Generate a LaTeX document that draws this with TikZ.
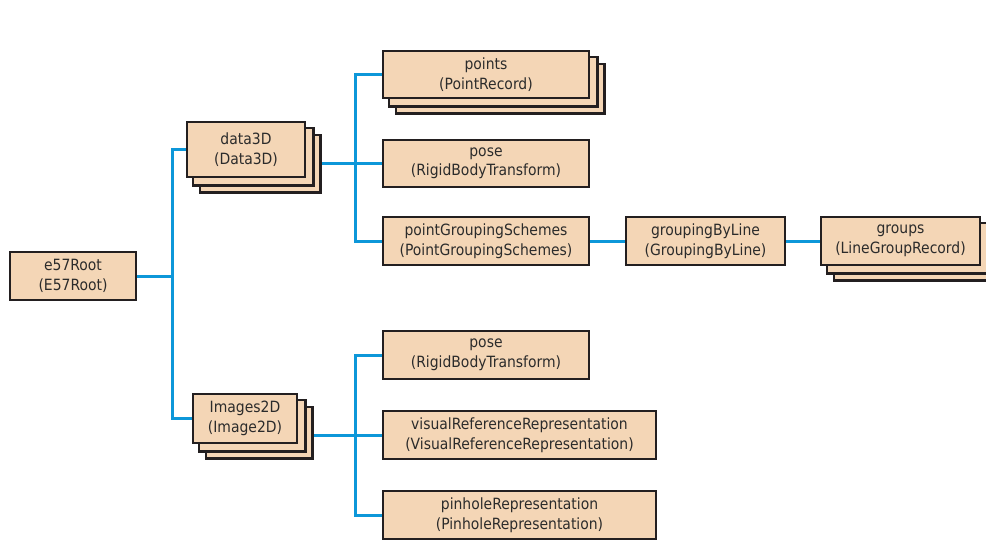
\documentclass[tikz,border=0pt]{standalone}
\usepackage{fontspec}
\setmainfont{DejaVu Sans Condensed}
\definecolor{boxfill}{HTML}{F4D6B6}
\definecolor{boxline}{HTML}{231F20}
\definecolor{connblue}{HTML}{0D97D9}
\definecolor{textcol}{HTML}{2B2B2B}
\pgfdeclarelayer{bg}
\pgfsetlayers{bg,main}
\tikzset{
  box/.style={draw=boxline, line width=2.5pt, fill=boxfill, inner sep=0pt, align=center,
    text=textcol, font=\fontsize{15.5}{19.5}\selectfont, minimum height=48},
  conn/.style={draw=connblue, line width=3pt},
  copybox/.style={draw=boxline, line width=2.5pt, fill=boxfill}
}
\newcommand{\stackcopies}[1]{%
  \draw[copybox] ([shift={(14,14)}]#1.north west) rectangle ([shift={(14,14)}]#1.south east);
  \draw[copybox] ([shift={(7,7)}]#1.north west) rectangle ([shift={(7,7)}]#1.south east);
}
\begin{document}
\begin{tikzpicture}[x=1pt,y=-1pt]
\useasboundingbox (0,0) rectangle (986,539);
\node[box, minimum width=126] (root) at (73,276) {e57Root\\(E57Root)};
\node[box, minimum width=118, minimum height=55] (d3) at (246,149.5) {data3D\\(Data3D)};
\node[box, minimum width=206, minimum height=47] (points) at (486,74.5) {points\\(PointRecord)};
\node[box, minimum width=206, minimum height=47] (pose1) at (486,163.5) {pose\\(RigidBodyTransform)};
\node[box, minimum width=206] (pgs) at (486,241) {pointGroupingSchemes\\(PointGroupingSchemes)};
\node[box, minimum width=159] (gbl) at (705.5,241) {groupingByLine\\(GroupingByLine)};
\node[box, minimum width=159] (groups) at (900.5,241) {groups\\(LineGroupRecord)};
\node[box, minimum width=104, minimum height=49] (img) at (245,418.5) {Images2D\\(Image2D)};
\node[box, minimum width=206] (pose2) at (486,355) {pose\\(RigidBodyTransform)};
\node[box, minimum width=273] (vis) at (519.5,435) {visualReferenceRepresentation\\(VisualReferenceRepresentation)};
\node[box, minimum width=273] (pin) at (519.5,515) {pinholeRepresentation\\(PinholeRepresentation)};
\coordinate (j1) at (172,276);
\coordinate (j2) at (355,163.5);
\coordinate (j3) at (355,435);
\begin{pgfonlayer}{bg}
  \draw[conn] (root.east) -- (j1);
  \draw[conn] (d3.west) -| (j1) |- (img.west);
  \draw[conn] (points.west) -| (j2) |- (pgs.west);
  \draw[conn] (d3.east |- pose1.west) -- (pose1.west);
  \draw[conn] (pose2.west) -| (j3) |- (pin.west);
  \draw[conn] (img.east |- vis.west) -- (vis.west);
  \draw[conn] (pgs.east) -- (gbl.west);
  \draw[conn] (gbl.east) -- (groups.west);
  \stackcopies{d3}
  \stackcopies{points}
  \stackcopies{groups}
  \stackcopies{img}
\end{pgfonlayer}
\end{tikzpicture}
\end{document}
